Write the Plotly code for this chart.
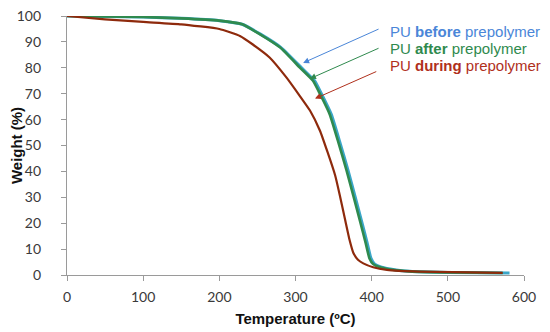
import plotly.graph_objects as go

# PU before prepolymer (mostly hidden beneath the green curve)
before_temp = [0, 50, 100, 150, 200, 230, 254, 281, 308, 325, 334, 347, 358, 369, 378, 387, 394, 399, 404, 413, 430, 450, 500, 581]
before_wt = [100, 99.8, 99.6, 99.1, 98.2, 96.8, 93, 87.8, 80, 75, 70, 62, 51.5, 40.4, 30.5, 20.5, 12.5, 6.5, 4.2, 3.0, 2, 1.4, 1.0, 0.8]

# PU after prepolymer
after_temp = [0, 50, 100, 150, 200, 230, 253, 280, 306, 323, 332, 345, 356, 367, 376, 385, 392, 397, 402, 411, 428, 450, 500, 572]
after_wt = [100, 99.8, 99.6, 99.1, 98.2, 96.8, 93, 87.8, 80, 75, 70, 62, 51.5, 40.4, 30.5, 20.5, 12.5, 6.5, 4.2, 3.0, 2, 1.4, 1.0, 0.8]

# PU during prepolymer
during_temp = [0, 50, 100, 150, 200, 227, 244, 266, 288, 306, 319, 332, 342, 352, 358, 365, 371, 376, 382, 389, 402, 420, 463, 572]
during_wt = [100, 98.7, 97.7, 96.8, 95, 92.3, 89, 84, 76.3, 69, 63.5, 55.8, 47.5, 38.5, 31, 21.5, 13.5, 8.5, 5.9, 4.5, 3.0, 2, 1.3, 0.8]

x_ticks = [0, 100, 200, 300, 400, 500, 600]
y_ticks = [0, 10, 20, 30, 40, 50, 60, 70, 80, 90, 100]

c_blue = "#4a86d8"
c_green = "#2f8a4e"
c_red = "#8e2a0c"

fig = go.Figure()
fig.add_trace(go.Scatter(x=before_temp, y=before_wt, mode="lines", line=dict(color="#3aa6c8", width=3, shape="spline", smoothing=0.4), showlegend=False))
fig.add_trace(go.Scatter(x=after_temp, y=after_wt, mode="lines", line=dict(color=c_green, width=2.6, shape="spline", smoothing=0.4), showlegend=False))
fig.add_trace(go.Scatter(x=during_temp, y=during_wt, mode="lines", line=dict(color=c_red, width=2.2, shape="spline", smoothing=0.4), showlegend=False))

labels = [("PU <b>before</b> prepolymer", c_blue, 94.2, (310, 81.9), (411, 95.2)),
          ("PU <b>after</b> prepolymer", "#2f8a4e", 87.6, (319, 75.8), (411, 87.8)),
          ("PU <b>during</b> prepolymer", "#b0301c", 80.8, (325.6, 68.1), (408, 78.8))]
for text, col, ty, head, tail in labels:
    fig.add_annotation(x=head[0], y=head[1], ax=tail[0], ay=tail[1], xref="x", yref="y", axref="x", ayref="y",
                       text="", showarrow=True, arrowhead=2, arrowsize=1.2, arrowwidth=1, arrowcolor=col)
    fig.add_annotation(x=421.5, y=ty, xref="x", yref="y", text=text, showarrow=False, xanchor="left", yanchor="middle",
                       font=dict(family="Liberation Sans, Arial", size=15, color=col))

axis_common = dict(showgrid=False, zeroline=False, showline=True, linecolor="#9a9a9a", linewidth=1.3,
                   ticks="outside", ticklen=5, tickcolor="#9a9a9a", tickwidth=1.3, automargin=False,
                   ticklabeloverflow="allow",
                   tickfont=dict(family="Lato, Open Sans", size=14, color="#3a3a3a"))
fig.update_xaxes(range=[0, 600], tickvals=x_ticks, ticklabelstandoff=4, **axis_common,
                 title=dict(text="<b>Temperature (ºC)</b>", font=dict(family="Liberation Sans, Arial", size=15, color="#111"), standoff=9))
fig.update_yaxes(range=[0, 100], tickvals=y_ticks, ticklabelstandoff=17, **axis_common,
                 title=dict(text="<b>Weight (%)</b>", font=dict(family="Liberation Sans, Arial", size=15, color="#111"), standoff=0))

fig.update_layout(width=542, height=324, margin=dict(l=59, r=26, t=8, b=57),
                  plot_bgcolor="white", paper_bgcolor="white", showlegend=False)
fig.write_html("out.html")
